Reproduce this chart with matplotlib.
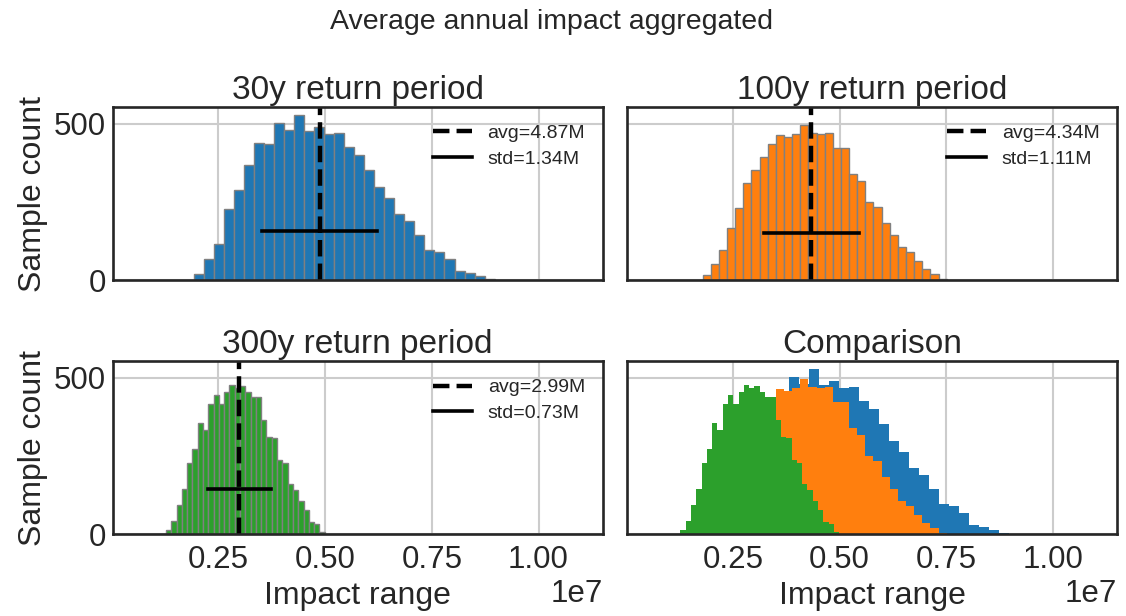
import numpy as np
import matplotlib
matplotlib.use("Agg")
import matplotlib.pyplot as plt
from matplotlib.lines import Line2D

# ── data ────────────────────────────────────────────────────────
titles = ["30y return period", "100y return period", "300y return period"]
colors = ["tab:blue", "tab:orange", "tab:green"]

avg_vals = [4.87e6, 4.34e6, 2.99e6]
std_vals = [1.34e6, 1.11e6, 0.73e6]

# histogram range (min, max) of each sample, 30 equal bins
range_30y = (1.93e6, 8.97e6)
range_100y = (1.79e6, 7.51e6)
range_300y = (1.27e6, 4.99e6)

counts_30y = [19, 68, 116, 226, 289, 369, 439, 437, 503, 479,
              527, 476, 489, 469, 472, 426, 399, 353, 299, 264,
              210, 190, 145, 96, 90, 66, 30, 24, 13, 4]
counts_100y = [16, 50, 96, 166, 231, 312, 352, 394, 436, 463,
               457, 468, 497, 471, 468, 471, 423, 422, 340, 317,
               251, 235, 184, 143, 106, 90, 60, 34, 20, 4]
counts_300y = [12, 42, 93, 144, 226, 273, 357, 332, 415, 445,
               417, 456, 477, 469, 473, 456, 440, 439, 366, 312,
               308, 237, 227, 160, 142, 106, 77, 38, 32, 6]

ranges = [range_30y, range_100y, range_300y]
counts = [counts_30y, counts_100y, counts_300y]

plt.rcParams["font.family"] = ["Liberation Sans", "DejaVu Sans"]
plt.rcParams["axes.edgecolor"] = "#262626"
plt.rcParams["axes.linewidth"] = 1.9
plt.rcParams["text.color"] = "#262626"
plt.rcParams["xtick.color"] = "#262626"
plt.rcParams["ytick.color"] = "#262626"
plt.rcParams["axes.labelcolor"] = "#262626"
plt.rcParams["xtick.major.size"] = 0
plt.rcParams["ytick.major.size"] = 0
plt.rcParams["xtick.major.pad"] = 8
plt.rcParams["ytick.major.pad"] = 5


def hist(ax, cnt, rng, color, edge=True):
    edges = np.linspace(rng[0], rng[1], len(cnt) + 1)
    kw = dict(edgecolor="grey", linewidth=1) if edge else dict(linewidth=0)
    ax.hist(edges[:-1], bins=edges, weights=cnt, color=color, **kw)
    return edges


fig, axes = plt.subplots(2, 2, figsize=(11.26, 6.16), dpi=100,
                         sharex=True, sharey=True)
fig.subplots_adjust(left=0.100, right=0.992, top=0.826, bottom=0.133,
                    wspace=0.05, hspace=0.47)

for ax, title, cnt, rng, c, avg, std in zip(axes.flat, titles, counts, ranges,
                                          colors, avg_vals, std_vals):
    hist(ax, cnt, rng, c)
    ax.axvline(avg, color="black", linestyle="--", linewidth=3.2)
    ymark = 0.3 * max(cnt)
    ax.plot([avg - std, avg + std], [ymark, ymark], color="black", linewidth=2.6)
    ax.set_title(title, fontsize=24)
    handles = [Line2D([], [], color="black", linestyle="--", linewidth=3.2),
               Line2D([], [], color="black", linewidth=2.6)]
    ax.legend(handles, [f"avg={avg / 1e6:.2f}M", f"std={std / 1e6:.2f}M"],
              loc="upper right", frameon=False, fontsize=14,
              handlelength=2.0, labelspacing=0.4)

# comparison: all three stacked on one axis, no edges
ax = axes[1, 1]
for cnt, rng, c in zip(counts, ranges, colors):
    hist(ax, cnt, rng, c, edge=False)
ax.set_title("Comparison", fontsize=24)

for ax in axes.flat:
    ax.grid(True, color="#cccccc", linewidth=1.5)
    ax.set_axisbelow(True)
    ax.set_xlim(0.002e7, 1.15e7)
    ax.set_xticks([0.25e7, 0.5e7, 0.75e7, 1.0e7])
    ax.set_yticks([0, 500])
    ax.tick_params(labelsize=22.5)
    ax.xaxis.get_offset_text().set_fontsize(22.5)

for ax in axes[:, 0]:
    ax.set_ylabel("Sample count", fontsize=23)
for ax in axes[1, :]:
    ax.set_xlabel("Impact range", fontsize=23)

fig.suptitle("Average annual impact aggregated", fontsize=20.5, x=0.49, y=0.985)

fig.savefig("out.png", dpi=100)
